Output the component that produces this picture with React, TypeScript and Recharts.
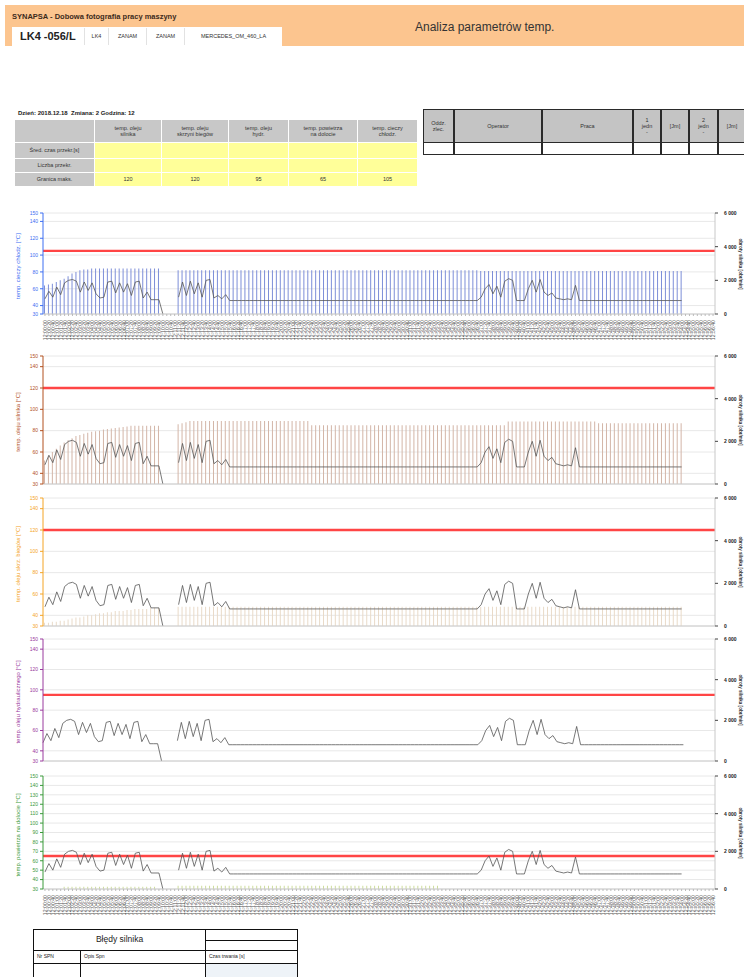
import React from 'react'
import { ComposedChart, Bar, Line, XAxis, YAxis, CartesianGrid, ReferenceLine } from 'recharts'

// time axis: 12:00:00 .. 12:56:40, every 20 s
const MINUTES = [
  '00', '01', '02', '03', '04', '05', '06', '07', '08', '09',
  '10', '11', '12', '13', '14', '15', '16', '17', '18', '19',
  '20', '21', '22', '23', '24', '25', '26', '27', '28', '29',
  '30', '31', '32', '33', '34', '35', '36', '37', '38', '39',
  '40', '41', '42', '43', '44', '45', '46', '47', '48', '49',
  '50', '51', '52', '53', '54', '55', '56',
]
const SECONDS = ['00', '20', '40']
const TIMES = MINUTES.flatMap((m) => SECONDS.map((s) => `12:${m}:${s}`))

// engine speed [obr/min] (grey line, right axis)
const RPM = [
  900, 1350, 1000, 1600, 1150, 1850, 2000, 2050, 1950, 1300,
  1900, 1400, 1850, 1200, 950, 1000, 1900, 1950, 1250, 1850,
  1300, 1800, 1100, 1900, 1950, 950, 1300, 850, 850, 850,
  0, null, null, null, 1000, 1900, 1100, 1950, 1200, 1850,
  1000, 2000, 2050, 950, 1100, 900, 1150, 800, 800, 800,
  800, 800, 800, 800, 800, 800, 800, 800, 800, 800,
  800, 800, 800, 800, 800, 800, 800, 800, 800, 800,
  800, 800, 800, 800, 800, 800, 800, 800, 800, 800,
  800, 800, 800, 800, 800, 800, 800, 800, 800, 800,
  800, 800, 800, 800, 800, 800, 800, 800, 800, 800,
  800, 800, 800, 800, 800, 800, 800, 800, 800, 800,
  800, 1000, 1500, 1750, 1200, 1650, 1000, 1950, 2100, 2000,
  800, 800, 800, 1500, 2000, 1300, 2050, 1300, 1100, 1250,
  950, 900, 850, 900, 850, 1700, 800, 800, 800, 800,
  800, 800, 800, 800, 800, 800, 800, 800, 800, 800,
  800, 800, 800, 800, 800, 800, 800, 800, 800, 800,
  800, 800, 800, null, null, null, null, null, null, null,
  null,
]

const COOLANT = [
  64, 65, 66, 68, 70, 72, 75, 78, 80, 82,
  83, 83, 84, 84, 84, 84, 84, 84, 84, 84,
  84, 84, 84, 84, 84, 84, 84, 84, 84, 84,
  null, null, null, null, 82, 82, 82, 82, 82, 82,
  82, 82, 82, 82, 82, 82, 82, 82, 82, 82,
  82, 82, 82, 82, 82, 82, 82, 82, 82, 82,
  82, 82, 82, 82, 82, 82, 82, 82, 82, 82,
  82, 82, 82, 82, 82, 82, 82, 82, 82, 82,
  82, 82, 82, 82, 82, 82, 82, 82, 82, 82,
  82, 82, 82, 82, 82, 82, 82, 82, 82, 82,
  82, 82, 82, 82, 82, 82, 82, 82, 82, 82,
  82, 81, 81, 81, 81, 81, 81, 81, 81, 81,
  81, 81, 81, 81, 81, 81, 81, 81, 81, 81,
  81, 81, 81, 81, 81, 81, 81, 81, 81, 81,
  81, 81, 81, 81, 81, 81, 81, 81, 81, 81,
  81, 81, 81, 81, 81, 81, 81, 81, 81, 81,
  81, 81, 81, null, null, null, null, null, null, null,
  null,
]

const ENGINE_OIL = [
  52, 56, 60, 63, 66, 69, 71, 73, 75, 76,
  77, 78, 79, 79.5, 80, 81, 81.5, 82, 82.5, 83,
  83.5, 84, 84.5, 84.5, 84.5, 84.5, 84.5, 84.5, 84.5, 84.5,
  null, null, null, null, 86, 87, 88, 89, 89, 89,
  89, 89, 89, 89, 89, 89, 89, 89, 89, 89,
  89, 89, 89, 89, 89, 89, 89, 89, 89, 89,
  89, 89, 89, 89, 89, 89, 89, 89, 85, 85,
  85, 85, 85, 85, 85, 85, 85, 85, 85, 85,
  85, 85, 85, 85, 85, 85, 85, 85, 85, 85,
  85, 85, 85, 85, 85, 85, 85, 85, 85, 85,
  85, 85, 85, 85, 85, 85, 85, 85, 85, 85,
  85, 85, 85, 85, 85, 85, 85, 85, 88.5, 88.5,
  88.5, 88.5, 88.5, 88.5, 88.5, 88.5, 88.5, 88.5, 88.5, 88.5,
  88.5, 88.5, 88.5, 88.5, 88.5, 88.5, 88.5, 88.5, 88.5, 88.5,
  88.5, 87, 87, 87, 87, 87, 87, 87, 87, 87,
  87, 87, 87, 87, 87, 87, 87, 87, 87, 87,
  87, 87, 87, null, null, null, null, null, null, null,
  null,
]

const GEAR_OIL = [
  33, 33, 34, 34, 35, 35, 36, 37, 38, 38,
  39, 40, 40, 41, 42, 42, 43, 43, 44, 44,
  44, 45, 45, 46, 46, 46, 46, 47, 47, 47,
  null, null, null, null, 48, 48, 48, 48, 48, 48,
  48, 48, 48, 48, 48, 48, 48, 48, 48, 48,
  48, 48, 48, 48, 48, 48, 48, 48, 48, 48,
  48, 48, 48, 48, 48, 48, 48, 48, 48, 48,
  48, 48, 48, 48, 48, 48, 48, 48, 48, 48,
  48, 48, 48, 48, 48, 48, 48, 48, 48, 48,
  48, 48, 48, 48, 48, 48, 48, 48, 48, 48,
  48, 48, 48, 48, 48, 48, 48, 48, 48, 48,
  48, 48, 48, 48, 48, 48, 48, 48, 48, 48,
  48, 48, 48, 48, 48, 48, 48, 48, 48, 48,
  48, 48, 48, 48, 48, 48, 48, 48, 48, 48,
  48, 48, 48, 48, 48, 48, 48, 48, 48, 48,
  48, 48, 48, 48, 48, 48, 48, 48, 48, 48,
  48, 48, 48, null, null, null, null, null, null, null,
  null,
]

const INTAKE_AIR = [
  null, null, null, null, null, 32.5, 32.5, 32.5, 32.5, 32.5,
  32.5, 32.5, 32.5, 32.5, 32.5, 32.5, 32.5, 32.5, 32.5, 32.5,
  32.5, 32.5, 32.5, 32.5, 32.5, 32.5, 32.5, 32.5, 32.5, null,
  null, null, null, null, 33.5, 33.5, 33.5, 33.5, 33.5, 33.5,
  33.5, 33.5, 33.5, 33.5, 33.5, 33.5, 33.5, 33.5, 33.5, 33.5,
  33.5, 33.5, 33.5, 33.5, 33.5, 33.5, 33.5, 33.5, 33.5, 33.5,
  33.5, 33.5, 33.5, 33.5, 33.5, 33.5, 33.5, 33.5, 33.5, 33.5,
  33.5, 33.5, 33.5, 33.5, 33.5, 33.5, 33.5, 33.5, 33.5, 33.5,
  33.5, 33.5, 33.5, 33.5, 33.5, 33.5, 33.5, 33.5, 33.5, 33.5,
  33.5, 33.5, 33.5, 33.5, 33.5, 33.5, 33.5, 33.5, 33.5, 33.5,
  33.5, null, null, null, null, null, null, null, null, null,
  null, null, null, null, null, null, null, null, null, null,
  null, null, null, null, null, null, null, null, null, null,
  null, null, null, null, null, null, null, null, null, null,
  null, null, null, null, null, null, null, null, null, null,
  null, null, null, null, null, null, null, null, null, null,
  null, null, null, null, null, null, null, null, null, null,
  null,
]

const TABLE_HEADERS = ['temp. oleju\nsilnika', 'temp. oleju\nskrzyni biegów', 'temp. oleju\nhydr.', 'temp. powietrza\nna dolocie', 'temp. cieczy\nchłodz.']
const ROW_LABELS = ['Śred. czas przekr.[s]', 'Liczba przekr.', 'Granica maks.']
const LIMITS = [120, 120, 95, 65, 105]

const TICKS_A = [30, 40, 60, 80, 100, 120, 140, 150]
const TICKS_B = [30, 40, 50, 60, 70, 80, 90, 100, 110, 120, 130, 140, 150]
const RPM_TICKS = [0, 2000, 4000, 6000]

const rows = TIMES.map((time, i) => ({
  time,
  rpm: RPM[i],
  coolant: COOLANT[i],
  engineOil: ENGINE_OIL[i],
  gearOil: GEAR_OIL[i],
  intake: INTAKE_AIR[i],
}))

const CHARTS = [
  { id: 'coolant', y150: 213, y30: 314, color: '#3d6ef2', label: 'temp. cieczy chłodz. [°C]', limit: LIMITS[4], ticks: TICKS_A, barKey: 'coolant', barColor: '#7d8ed8', labels: true, xh: 32 },
  { id: 'engine', y150: 356, y30: 484, color: '#b2501f', label: 'temp. oleju silnika [°C]', limit: LIMITS[0], ticks: TICKS_A, barKey: 'engineOil', barColor: '#d3b5a7', labels: false, xh: 5 },
  { id: 'gear', y150: 498, y30: 626, color: '#f4a425', label: 'temp. oleju skrz. biegów [°C]', limit: LIMITS[1], ticks: TICKS_A, barKey: 'gearOil', barColor: '#e9dac8', labels: false, xh: 5 },
  { id: 'hydr', y150: 639, y30: 761, color: '#9a3a9e', label: 'temp. oleju hydraulicznego [°C]', limit: LIMITS[2], ticks: TICKS_A, barKey: null, barColor: '', labels: false, xh: 5 },
  { id: 'air', y150: 776, y30: 889, color: '#3a9a3a', label: 'temp. powietrza na dolocie [°C]', limit: LIMITS[3], ticks: TICKS_B, barKey: 'intake', barColor: '#cddc9c', labels: true, xh: 36 },
]

const fmtRpm = (v: number) => (v === 0 ? '0' : `${v / 1000}\u00a0000`)

const TimeTick = (props: any) => {
  const { x, y, payload } = props
  const ty = y + 2
  return (
    <text x={x} y={ty} transform={`rotate(-90 ${x} ${ty})`} textAnchor="end" dominantBaseline="central" fontSize={5.2} fill="#555">
      {payload.value}
    </text>
  )
}

const RpmTick = (props: any) => {
  const { x, y, payload } = props
  return (
    <text x={x + 4} y={y} dominantBaseline="central" fontSize={5} fontWeight={700} fill="#222">
      {fmtRpm(payload.value)}
    </text>
  )
}

function TempChart({ cfg }: { cfg: (typeof CHARTS)[number] }) {
  const plotH = cfg.y30 - cfg.y150
  const height = 4 + plotH + cfg.xh
  const mid = (cfg.y150 + cfg.y30) / 2
  return (
    <>
      <div style={{ position: 'absolute', left: 0, top: cfg.y150 - 4 }}>
        <ComposedChart width={744} height={height} data={rows} margin={{ top: 4, right: 0, left: 0, bottom: 0 }}>
          <CartesianGrid yAxisId="left" vertical={false} stroke="#e8e8e8" />
          <XAxis
            dataKey="time"
            interval={0}
            height={cfg.xh}
            tick={cfg.labels ? <TimeTick /> : false}
            tickSize={2}
            tickLine={{ stroke: '#bbb' }}
            axisLine={{ stroke: '#ccc' }}
          />
          <YAxis
            yAxisId="left"
            width={43}
            domain={[30, 150]}
            ticks={cfg.ticks}
            interval={0}
            allowDataOverflow
            tick={{ fontSize: 5, fill: cfg.color }}
            axisLine={{ stroke: cfg.color }}
            tickLine={{ stroke: cfg.color }}
            tickSize={3}
          />
          <YAxis
            yAxisId="right"
            orientation="right"
            width={29}
            domain={[0, 6000]}
            ticks={RPM_TICKS}
            interval={0}
            tick={<RpmTick />}
            axisLine={{ stroke: '#c8c8c8' }}
            tickLine={{ stroke: '#444' }}
            tickSize={3}
          />
          {cfg.barKey && (
            <Bar yAxisId="left" dataKey={cfg.barKey} fill={cfg.barColor} barSize={1} isAnimationActive={false} />
          )}
          <ReferenceLine yAxisId="left" y={cfg.limit} stroke="#ff4545" strokeWidth={2.4} />
          <Line yAxisId="right" type="linear" dataKey="rpm" stroke="#555" strokeWidth={0.8} dot={false} isAnimationActive={false} />
        </ComposedChart>
      </div>
      <div style={{ position: 'absolute', left: 18, top: mid + 2, transform: 'translate(-50%, -50%) rotate(-90deg)', whiteSpace: 'nowrap', fontSize: 6, color: cfg.color }}>
        {cfg.label}
      </div>
      <div style={{ position: 'absolute', left: 740, top: mid, transform: 'translate(-50%, -50%) rotate(90deg)', whiteSpace: 'nowrap', fontSize: 4.6, fontWeight: 700, color: '#333' }}>
        obroty silnika [obr/min]
      </div>
    </>
  )
}

const cell = (l: number, t: number, w: number, h: number, extra: React.CSSProperties = {}): React.CSSProperties => ({
  position: 'absolute',
  left: l,
  top: t,
  width: w,
  height: h,
  boxSizing: 'border-box',
  display: 'flex',
  alignItems: 'center',
  justifyContent: 'center',
  textAlign: 'center',
  whiteSpace: 'pre-line',
  lineHeight: 1.15,
  ...extra,
})

function ParamTable() {
  const xs = [15, 95, 162, 229, 289, 358, 418]
  const ys = [120, 143, 159, 173, 187]
  const out: React.ReactNode[] = []
  for (let r = 0; r < 4; r++) {
    for (let c = 0; c < 6; c++) {
      const gray = r === 0 || c === 0
      let text = ''
      if (r === 0 && c > 0) text = TABLE_HEADERS[c - 1]
      if (r > 0 && c === 0) text = ROW_LABELS[r - 1]
      if (r === 3 && c > 0) text = String(LIMITS[c - 1])
      out.push(
        <div key={`${r}-${c}`} style={cell(xs[c], ys[r], xs[c + 1] - xs[c] - 1, ys[r + 1] - ys[r] - 1, { background: gray ? '#c8c8c8' : '#ffff99', fontSize: 5.5, color: '#333' })}>
          {text}
        </div>
      )
    }
  }
  return <>{out}</>
}

function WorkTable() {
  const xs = [423, 454, 542, 633, 661, 689, 718, 746]
  const heads = ['Oddz.\nzlec.', 'Operator', 'Praca', '1\njedn\n-', '[Jm]', '2\njedn\n-', '[Jm]']
  const out: React.ReactNode[] = []
  heads.forEach((h, c) => {
    const w = xs[c + 1] - xs[c]
    out.push(
      <div key={`h${c}`} style={cell(xs[c], 109, w, 34, { background: '#c4c4c4', border: '1.5px solid #2a2a2a', fontSize: 5.5, color: '#333' })}>{h}</div>
    )
    out.push(<div key={`b${c}`} style={cell(xs[c], 142, w, 13, { background: '#fff', border: '1.5px solid #2a2a2a' })} />)
  })
  return <>{out}</>
}

function ErrorTable() {
  const b = '1.5px solid #111'
  return (
    <>
      <div style={cell(33, 929, 173, 22, { border: b, fontSize: 8.5, color: '#222' })}>Błędy silnika</div>
      <div style={cell(205, 929, 93, 12, { border: b })} />
      <div style={cell(205, 940, 93, 11, { border: b })} />
      <div style={cell(33, 950, 48, 14, { border: b, justifyContent: 'flex-start', paddingLeft: 3, fontSize: 5, color: '#222' })}>Nr SPN</div>
      <div style={cell(80, 950, 126, 14, { border: b, justifyContent: 'flex-start', paddingLeft: 3, fontSize: 5, color: '#222' })}>Opis Spn</div>
      <div style={cell(205, 950, 93, 14, { border: b, justifyContent: 'flex-start', paddingLeft: 3, fontSize: 5, color: '#222' })}>Czas trwania [s]</div>
      <div style={cell(33, 963, 48, 20, { border: b })} />
      <div style={cell(80, 963, 126, 20, { border: b })} />
      <div style={cell(205, 963, 93, 20, { border: b, background: '#eef3f8' })} />
    </>
  )
}

export default function App() {
  return (
    <div style={{ position: 'absolute', left: 0, top: 0, width: 744, height: 977, overflow: 'hidden', background: '#fff', fontFamily: '"Liberation Sans", Arial, sans-serif' }}>
      {/* header band */}
      <div style={{ position: 'absolute', left: 5, top: 5, width: 739, height: 41, background: '#fcc58f' }} />
      <div style={{ position: 'absolute', left: 12, top: 12, fontSize: 7.5, fontWeight: 700, color: '#3b2a1c', whiteSpace: 'nowrap' }}>
        SYNAPSA - Dobowa fotografia pracy maszyny
      </div>
      <div style={{ position: 'absolute', left: 12, top: 27, width: 270, height: 19, background: '#fff' }} />
      <div style={{ position: 'absolute', left: 20, top: 30, fontSize: 11, fontWeight: 700, color: '#222', whiteSpace: 'nowrap' }}>LK4 -056/L</div>
      {[['LK4', 84, 24], ['ZANAM', 108, 38], ['ZANAM', 146, 38], ['MERCEDES_OM_460_LA', 184, 98]].map(([t, l, w]) => (
        <div key={`${t}${l}`} style={cell(l as number, 28, w as number, 17, { borderLeft: '1px solid #e2e2e2', fontSize: 5.5, color: '#333' })}>{t}</div>
      ))}
      <div style={{ position: 'absolute', left: 415, top: 20, fontSize: 12, color: '#333', whiteSpace: 'nowrap' }}>Analiza parametrów temp.</div>

      <div style={{ position: 'absolute', left: 18, top: 110, fontSize: 6, fontWeight: 700, color: '#222', whiteSpace: 'nowrap' }}>
        Dzień: 2018.12.18&nbsp; Zmiana: 2 Godzina: 12
      </div>
      <ParamTable />
      <WorkTable />

      {CHARTS.map((c) => (
        <TempChart key={c.id} cfg={c} />
      ))}

      <ErrorTable />
    </div>
  )
}
